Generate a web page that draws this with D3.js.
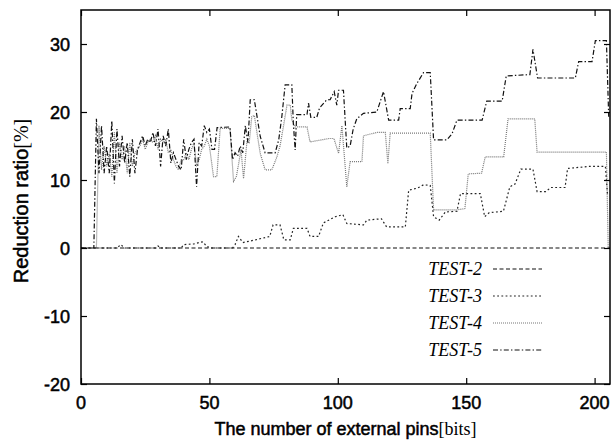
<!DOCTYPE html>
<html>
<head>
<meta charset="utf-8">
<script src="https://cdn.jsdelivr.net/npm/d3@7"></script>
<style>
  body { margin: 0; background: #fff; }
  svg { display: block; }
  .heavy { stroke: #000; stroke-width: 0.5px; paint-order: stroke; }
</style>
</head>
<body>
<svg id="chart"></svg>
<script>
// series data, [pins, reduction %]
var seriesNames = ["TEST-2", "TEST-3", "TEST-4", "TEST-5"];

var test2 = [[0,0],[206,0]];

var test3 = [[0,0],[14,0],[15.5,0.5],[17,0],[29,0],[30,0.3],[31,0],[39,0],[40,0.5],[44,0.6],[46,0.8],[47.5,0.9],[49,0.2],[51,0],
  [59,0],[60,0.5],[61.3,1.7],[63,0.8],[68,1.2],[73.5,1.7],[74.8,3.4],[77.5,3.4],[79,1.2],[81.5,1.2],[82.7,2.9],[88,2.9],
  [89.2,1.7],[92.5,1.7],[94.4,3.7],[96,4],[99,4.6],[102,4.9],[103.5,3.6],[110,3.4],[111.3,4.1],[117,4.3],[119,3.1],[126.3,3.1],
  [127.6,8.5],[131,8.8],[133.4,9.3],[136,9.2],[137.3,4.6],[139.5,4.1],[141.9,5.3],[146.4,5.4],[147.8,8],[155.5,8],[157.2,4.6],
  [159,5.2],[164.5,5.4],[167,9],[169,9.4],[171.3,11.6],[176,11.6],[177.6,8.3],[181,8.3],[183,8.9],[188.5,8.9],[189.5,11.7],
  [198,12],[204.2,12],[205,8]];

var test4 = [[0,0],[6,0],[7,18],[8,11.5],[9,15],[10,12],[11,14],[12,10.5],[13,17],[14,11],[15,15.5],[16,13],[17,15],[18,11],
  [19,15.5],[20,12],[21,14],[22,14.5],[23,15],[24,16],[25,14.5],[26,15.5],[27,16],[28,15.5],[29,16.5],[30,14.5],[31,16],
  [32,15.5],[33,16],[34,14],[35,14.5],[36,13],[37,12],[38,11.5],[39,13],[40,13],[41,14],[42,13],[43,14.5],[44,15.5],[45,12],
  [46,13],[47,14.5],[48,15],[49,16],[50,15],[51.6,10.5],[52.9,10.5],[54.2,17.6],[58,17.6],[59.4,9.8],[60.5,10.5],[61.4,12.4],
  [62.3,14.5],[63.3,10.2],[64.6,15.6],[65.5,15.5],[66.5,19.3],[67.5,19.5],[68.5,17],[69.8,13.9],[71.7,11.5],[74.3,11.5],
  [76.3,13.4],[77.5,15],[78.8,17.8],[80.2,21],[81.5,21],[82.1,18.8],[83.4,17.8],[88,17.8],[89.2,15.6],[96.6,16.1],[98.5,16.1],
  [100.3,13.9],[101.6,18],[103.5,9],[104.8,12.7],[109.4,12.7],[110,16.5],[115.2,17],[118.5,17],[119.5,12.4],[120.4,16.9],
  [136,16.9],[137.3,5.6],[146.4,5.6],[149.5,5.8],[150.8,10.9],[156,11],[157.4,13.4],[164.6,13.4],[166.3,19],[176.7,19],
  [177.6,14.1],[204.6,14.1],[205.3,0]];

var test5 = [[0,0],[5,0],[6,19],[7,11],[8,18],[9,11],[10,15],[11,11],[12,18.7],[13,9.5],[14,17.5],[15,12],[16,16.5],[17,12.5],
  [18,15.5],[19,10.5],[20,16],[21,11],[22,14.5],[23,15.5],[24,16.5],[25,15],[26,16],[27,15.5],[28,17],[29,15],[30,17.5],
  [31,12],[32,16.5],[33,15],[34,17.5],[35,12.5],[36,14],[37,13],[38,12],[39,11.5],[40,16],[41,13],[42,14.5],[43,15.5],[44,16],
  [45,9],[46,15.5],[47,15],[48,18],[49,17],[50,17.5],[51,14.5],[52,14.5],[53,17.7],[58,17.8],[59,13],[60,14],[61,13.5],
  [62,15],[63,14],[64,18],[65,15.5],[65.9,21.8],[67.5,21.8],[69.8,16.4],[71.7,14],[75.6,14],[77,15.9],[78.2,19.3],[79.5,24],
  [82.1,24],[82.7,18.3],[83.4,14.4],[84,19.6],[88,19.6],[88.6,21.3],[89.5,19.2],[91.8,19.2],[92.9,20.6],[95.7,21.8],[97,21.8],
  [98.6,23],[99.6,21],[100.3,23.2],[102.2,23.2],[103.5,14.7],[104.8,15],[106,17.5],[107.4,19],[110,19.8],[115.2,20],
  [117.8,23],[119.8,18.8],[123.7,18.8],[124.3,20.5],[128.2,20.5],[128.9,22.7],[130.8,24.2],[133.4,25.8],[136,25.8],
  [137.3,15.9],[142.5,15.9],[144.5,16.8],[146.4,18.8],[156.2,18.8],[158,21.6],[164,21.6],[165.6,25.3],[174.8,25.5],
  [176,29.2],[177.8,25],[192.5,25],[193.8,27.4],[199,27.4],[200.3,30.5],[204.6,30.5],[205.5,19.3]];

var xTicks = [0, 50, 100, 150, 200];
var yTicks = [-20, -10, 0, 10, 20, 30];

var width = 613, height = 440;
var margin = {top: 10, right: 3, bottom: 56, left: 81};
var plotW = width - margin.left - margin.right;
var plotH = height - margin.top - margin.bottom;

var svg = d3.select("#chart")
    .attr("width", width)
    .attr("height", height);

var x = d3.scaleLinear().domain([0, 206]).range([margin.left, margin.left + plotW]);
var y = d3.scaleLinear().domain([-20, 35]).range([margin.top + plotH, margin.top]);

var styles = [
  {data: test2, color: "#111", dash: "4,2.5", width: 1.2},
  {data: test3, color: "#222", dash: "1.8,2.4", width: 1.2},
  {data: test4, color: "#777", dash: "1,1", width: 1.2},
  {data: test5, color: "#111", dash: "5,2.2,1.4,2.2", width: 1.2}
];

var line = d3.line()
    .x(function(d) { return x(d[0]); })
    .y(function(d) { return y(d[1]); });

var plot = svg.append("g");
plot.append("clipPath").attr("id", "clip")
  .append("rect")
  .attr("x", margin.left).attr("y", margin.top)
  .attr("width", plotW).attr("height", plotH);

var lines = plot.append("g").attr("clip-path", "url(#clip)");
// draw lowest-priority first so dash-dot stays on top
[2, 1, 0, 3].forEach(function(i) {
  var s = styles[i];
  lines.append("path")
    .datum(s.data)
    .attr("d", line)
    .attr("fill", "none")
    .attr("stroke", s.color)
    .attr("stroke-width", s.width)
    .attr("stroke-dasharray", s.dash);
});

// frame
svg.append("rect")
  .attr("x", margin.left).attr("y", margin.top)
  .attr("width", plotW).attr("height", plotH)
  .attr("fill", "none")
  .attr("stroke", "#000")
  .attr("stroke-width", 1.5);

// inward ticks on all four sides
var tickLen = 6;
var axisFont = "'Liberation Sans', Arial, sans-serif";

svg.append("g").attr("transform", "translate(0," + (margin.top + plotH) + ")")
  .call(d3.axisTop(x).tickValues(xTicks).tickSize(tickLen).tickFormat(""))
  .call(function(g) { g.select(".domain").remove(); });
svg.append("g").attr("transform", "translate(0," + margin.top + ")")
  .call(d3.axisBottom(x).tickValues(xTicks).tickSize(tickLen).tickFormat(""))
  .call(function(g) { g.select(".domain").remove(); });
svg.append("g").attr("transform", "translate(" + margin.left + ",0)")
  .call(d3.axisRight(y).tickValues(yTicks).tickSize(tickLen).tickFormat(""))
  .call(function(g) { g.select(".domain").remove(); });
svg.append("g").attr("transform", "translate(" + (margin.left + plotW) + ",0)")
  .call(d3.axisLeft(y).tickValues(yTicks).tickSize(tickLen).tickFormat(""))
  .call(function(g) { g.select(".domain").remove(); });
svg.selectAll(".tick line").attr("stroke", "#000").attr("stroke-width", 1.2);

// tick labels
svg.append("g").selectAll("text")
  .data(xTicks)
  .join("text")
  .attr("class", "heavy")
  .attr("x", function(d) { return x(d); })
  .attr("y", 409)
  .attr("text-anchor", "middle")
  .style("font-family", axisFont)
  .style("font-size", "18px")
  .attr("fill", "#000")
  .text(function(d) { return d; });

svg.append("g").selectAll("text")
  .data(yTicks)
  .join("text")
  .attr("class", "heavy")
  .attr("x", 70)
  .attr("y", function(d) { return y(d) + 6.5; })
  .attr("text-anchor", "end")
  .style("font-family", axisFont)
  .style("font-size", "18px")
  .attr("fill", "#000")
  .text(function(d) { return d; });

// axis titles
var xt = svg.append("text")
  .attr("x", margin.left + plotW / 2)
  .attr("y", 435)
  .attr("text-anchor", "middle")
  .style("font-family", axisFont)
  .style("font-size", "18px")
  .attr("fill", "#000");
xt.append("tspan").attr("class", "heavy").text("The number of external pins");
xt.append("tspan").style("font-family", "'Liberation Serif', 'Times New Roman', serif").text("[bits]");

var yt = svg.append("text")
  .attr("transform", "translate(28,201) rotate(-90)")
  .attr("text-anchor", "middle")
  .style("font-family", axisFont)
  .style("font-size", "20px")
  .attr("fill", "#000");
yt.append("tspan").attr("class", "heavy").text("Reduction ratio");
yt.append("tspan").style("font-family", "'Liberation Serif', 'Times New Roman', serif").text("[%]");

// legend
var legendY = [269, 296, 323, 350];
var legend = svg.append("g");
seriesNames.forEach(function(name, i) {
  legend.append("text")
    .attr("x", 482)
    .attr("y", legendY[i] + 6)
    .attr("text-anchor", "end")
    .style("font-family", "'Liberation Serif', 'Times New Roman', serif")
    .style("font-style", "italic")
    .style("font-size", "18px")
    .attr("fill", "#000")
    .text(name);
  legend.append("line")
    .attr("x1", 493).attr("x2", 542)
    .attr("y1", legendY[i]).attr("y2", legendY[i])
    .attr("stroke", styles[i].color)
    .attr("stroke-width", styles[i].width)
    .attr("stroke-dasharray", styles[i].dash);
});
</script>
</body>
</html>
